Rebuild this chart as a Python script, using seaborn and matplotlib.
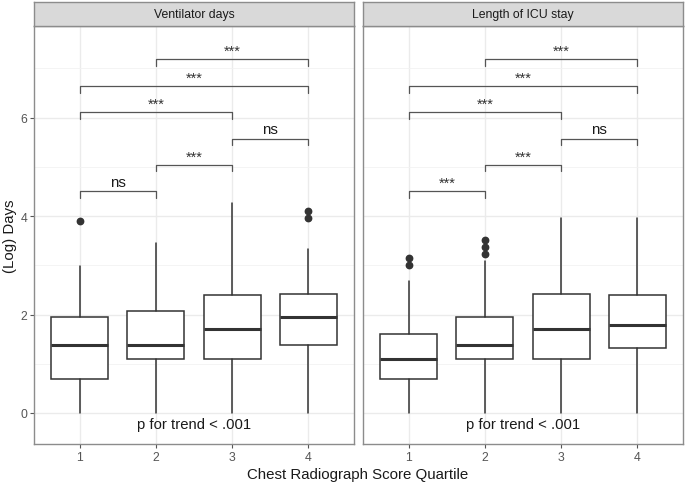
import matplotlib
matplotlib.use("Agg")
import matplotlib.pyplot as plt
import seaborn as sns
import numpy as np

# ---------------- data ----------------
quartiles = ["1", "2", "3", "4"]
panels = ["Ventilator days", "Length of ICU stay"]

vent_whislo = [0.0, 0.0, 0.0, 0.0]
vent_q1 = [0.69, 1.10, 1.10, 1.39]
vent_med = [1.39, 1.39, 1.71, 1.95]
vent_q3 = [1.95, 2.08, 2.40, 2.42]
vent_whishi = [2.99, 3.45, 4.27, 3.33]
vent_fliers = [[3.89], [], [], [3.97, 4.11]]

icu_whislo = [0.0, 0.0, 0.0, 0.0]
icu_q1 = [0.69, 1.10, 1.10, 1.32]
icu_med = [1.10, 1.39, 1.71, 1.79]
icu_q3 = [1.61, 1.95, 2.42, 2.40]
icu_whishi = [2.69, 3.08, 3.97, 3.97]
icu_fliers = [[3.00, 3.14], [3.22, 3.37, 3.51], [], []]

comp_pairs = [(1, 2), (2, 3), (3, 4), (1, 3), (1, 4), (2, 4)]
comp_heights = [4.50, 5.04, 5.57, 6.11, 6.64, 7.18]
vent_labels = ["ns", "***", "ns", "***", "***", "***"]
icu_labels = ["***", "***", "ns", "***", "***", "***"]

trend_text = "p for trend < .001"
ylabel = "(Log) Days"
xlabel = "Chest Radiograph Score Quartile"

# ---------------- style ----------------
sns.set_theme(style="whitegrid")
plt.rcParams["font.family"] = ["Liberation Sans", "DejaVu Sans"]

W, H = 685, 485
fig = plt.figure(figsize=(W / 100, H / 100), dpi=100)

def px_axes(x0, y0, x1, y1):
    return fig.add_axes([x0 / W, 1 - y1 / H, (x1 - x0) / W, (y1 - y0) / H])

panel_boxes = [(34, 27, 354, 445), (363, 27, 683, 445)]
stats_sets = [
    (vent_whislo, vent_q1, vent_med, vent_q3, vent_whishi, vent_fliers, vent_labels),
    (icu_whislo, icu_q1, icu_med, icu_q3, icu_whishi, icu_fliers, icu_labels),
]

dark = "#333333"
border = "#8C8C8C"

for i, ((x0, y0, x1, y1), (wlo, q1, med, q3, whi, fl, labs)) in enumerate(zip(panel_boxes, stats_sets)):
    ax = px_axes(x0, y0, x1, y1)
    ax.set_facecolor("white")
    stats = []
    for k in range(len(quartiles)):
        stats.append(dict(whislo=wlo[k], q1=q1[k], med=med[k], q3=q3[k],
                          whishi=whi[k], fliers=fl[k], label=quartiles[k]))
    ax.bxp(stats, positions=np.arange(1, 5), widths=0.75, showcaps=False,
           patch_artist=True,
           boxprops=dict(facecolor="white", edgecolor=dark, linewidth=1.1),
           whiskerprops=dict(color=dark, linewidth=1.1),
           medianprops=dict(color=dark, linewidth=2.2),
           flierprops=dict(marker="o", markerfacecolor=dark, markeredgecolor=dark,
                           markersize=4.6),
           zorder=3)
    # significance brackets
    tick = 0.135
    for (a, b), h, lab in zip(comp_pairs, comp_heights, labs):
        ax.plot([a, a, b, b], [h - tick, h, h, h - tick], color="#555555",
                linewidth=0.9, zorder=4)
        if lab == "ns":
            ax.text((a + b) / 2, h + 0.11, lab, ha="center", va="baseline",
                    fontsize=10.8, color="#1A1A1A")
        else:
            ax.text((a + b) / 2, h + 0.09, lab, ha="center", va="baseline",
                    fontsize=10.5, color="#333333")
    ax.text(2.5, -0.22, trend_text, ha="center", va="center", fontsize=10.7,
            color="#1A1A1A")

    ax.set_xlim(0.4, 4.6)
    ax.set_ylim(-0.63, 7.86)
    ax.set_xticks(np.arange(1, 5))
    ax.set_xticklabels(quartiles)
    ax.set_yticks([0, 2, 4, 6])
    ax.set_yticks([1, 3, 5, 7], minor=True)
    ax.grid(True, which="major", color="#EBEBEB", linewidth=1.0, zorder=0)
    ax.grid(True, which="minor", axis="y", color="#F2F2F2", linewidth=0.6, zorder=0)
    ax.set_axisbelow(True)
    ax.tick_params(axis="both", which="major", length=3, width=0.8, color="#555555",
                   labelsize=8.8, labelcolor="#555555", pad=2, bottom=True, left=True)
    ax.tick_params(axis="both", which="minor", length=0)
    if i == 1:
        ax.set_yticklabels([])
        ax.tick_params(axis="y", which="major", length=0)
    for s in ax.spines.values():
        s.set_color(border)
        s.set_linewidth(1.0)
    ax.set_xlabel("")
    ax.set_ylabel("")

    # strip
    sx = px_axes(x0, 3, x1, y0)
    sx.set_facecolor("#D9D9D9")
    sx.set_xticks([])
    sx.set_yticks([])
    sx.grid(False)
    for s in sx.spines.values():
        s.set_color(border)
        s.set_linewidth(1.0)
    sx.text(0.5, 0.5, panels[i], ha="center", va="center", fontsize=8.8,
            color="#1A1A1A", transform=sx.transAxes)

fig.text(358 / W, 1 - 475 / H, xlabel, ha="center", va="center", fontsize=10.8,
         color="#1A1A1A")
fig.text(10 / W, 1 - 236 / H, ylabel, ha="center", va="center", rotation=90,
         fontsize=10.8, color="#1A1A1A")

fig.savefig("out.png", dpi=100)
